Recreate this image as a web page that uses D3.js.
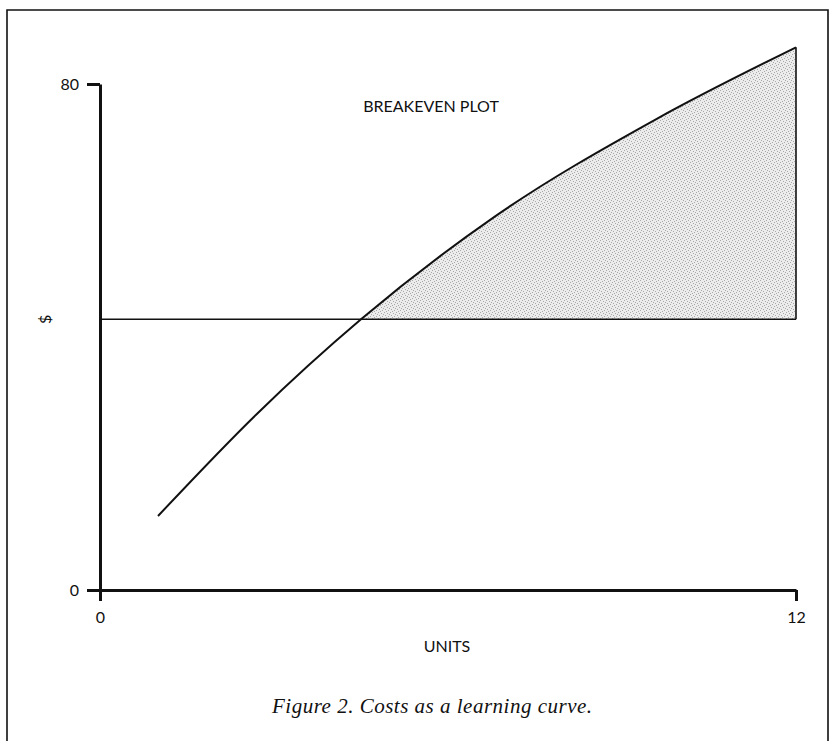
<!DOCTYPE html>
<html>
<head>
<meta charset="utf-8">
<script src="https://cdn.jsdelivr.net/npm/d3@7"></script>
<style>
  html, body { margin: 0; padding: 0; background: #fff; }
  svg { display: block; }
</style>
</head>
<body>
<svg id="chart" width="834" height="741"></svg>
<script>
// Learning-curve cost line (units produced vs. dollars)
const units = [1, 2.7, 4.5, 6.8, 9.6, 12];
const dollars = [11.7, 27.8, 42.8, 59, 74.5, 85.8];
// Flat breakeven level
const breakeven = 42.8;
const xTicks = [0, 12];
const yTicks = [0, 80];

const svg = d3.select("#chart");
const W = 834, H = 741;

// Page frame
svg.append("path")
  .attr("d", `M7,${H} V10 H828 V${H}`)
  .attr("fill", "none").attr("stroke", "#111").attr("stroke-width", 1.6);

const x = d3.scaleLinear().domain([0, 12]).range([100, 796]);
const y = d3.scaleLinear().domain([0, 80]).range([590, 84]);

// Stipple pattern for the shaded region
const defs = svg.append("defs");
const pat = defs.append("pattern")
  .attr("id", "stipple").attr("patternUnits", "userSpaceOnUse")
  .attr("width", 6).attr("height", 6);
pat.append("rect").attr("width", 6).attr("height", 6).attr("fill", "#ececec");
[[0,0],[3,1],[1,3],[4,4],[2,5],[5,2]].forEach(([a,b]) =>
  pat.append("rect").attr("x", a).attr("y", b).attr("width", 1).attr("height", 1).attr("fill", "#a8a8a8"));

// Only the part above the breakeven level is shaded
defs.append("clipPath").attr("id", "above")
  .append("rect")
  .attr("x", x(0)).attr("y", 0)
  .attr("width", x(12) - x(0)).attr("height", y(breakeven));

const pts = units.map((u, i) => ({u, v: dollars[i]}));
const curve = d3.curveMonotoneX;

svg.append("path").datum(pts)
  .attr("clip-path", "url(#above)")
  .attr("d", d3.area().x(d => x(d.u)).y0(y(breakeven)).y1(d => y(d.v)).curve(curve))
  .attr("fill", "url(#stipple)");

// Breakeven level
svg.append("line")
  .attr("x1", x(0)).attr("x2", x(12))
  .attr("y1", y(breakeven)).attr("y2", y(breakeven))
  .attr("stroke", "#111").attr("stroke-width", 1.6);

// Right edge of the shaded region
svg.append("line")
  .attr("x1", x(12)).attr("x2", x(12))
  .attr("y1", y(breakeven)).attr("y2", y(dollars[dollars.length - 1]))
  .attr("stroke", "#111").attr("stroke-width", 1.6);

// Cost line
svg.append("path").datum(pts)
  .attr("d", d3.line().x(d => x(d.u)).y(d => y(d.v)).curve(curve))
  .attr("fill", "none").attr("stroke", "#111").attr("stroke-width", 2);

// Axes
const font = "Lato, 'Open Sans', sans-serif";
const yAxis = svg.append("g").attr("transform", `translate(${x(0)},0)`)
  .call(d3.axisLeft(y).tickValues(yTicks).tickSize(13).tickSizeOuter(0).tickPadding(8));
const xAxis = svg.append("g").attr("transform", `translate(0,${y(0)})`)
  .call(d3.axisBottom(x).tickValues(xTicks).tickSize(11).tickSizeOuter(0).tickPadding(4));
[yAxis, xAxis].forEach(g => {
  g.select(".domain").attr("stroke", "#111").attr("stroke-width", 3);
  g.selectAll(".tick line").attr("stroke", "#111").attr("stroke-width", 3);
  g.selectAll(".tick text").attr("fill", "#111")
    .style("font-family", font).style("font-size", "16px");
});
xAxis.selectAll(".tick text").attr("dy", "1.1em");

// Titles
svg.append("text").attr("x", 431).attr("y", 112)
  .attr("text-anchor", "middle")
  .style("font-family", font).style("font-size", "16px").attr("fill", "#111")
  .text("BREAKEVEN PLOT");

svg.append("text").attr("x", 447).attr("y", 652)
  .attr("text-anchor", "middle")
  .style("font-family", font).style("font-size", "16px").attr("fill", "#111")
  .text("UNITS");

svg.append("text")
  .attr("transform", `translate(45,${y(breakeven)}) rotate(-90)`)
  .attr("text-anchor", "middle").attr("dy", "0.35em")
  .style("font-family", font).style("font-size", "16px").attr("fill", "#111")
  .text("$");

svg.append("text").attr("x", 272).attr("y", 713)
  .style("font-family", "'Liberation Serif', serif").style("font-style", "italic")
  .style("font-size", "21px").style("letter-spacing", "0.5px").attr("fill", "#111")
  .text("Figure 2. Costs as a learning curve.");
</script>
</body>
</html>
